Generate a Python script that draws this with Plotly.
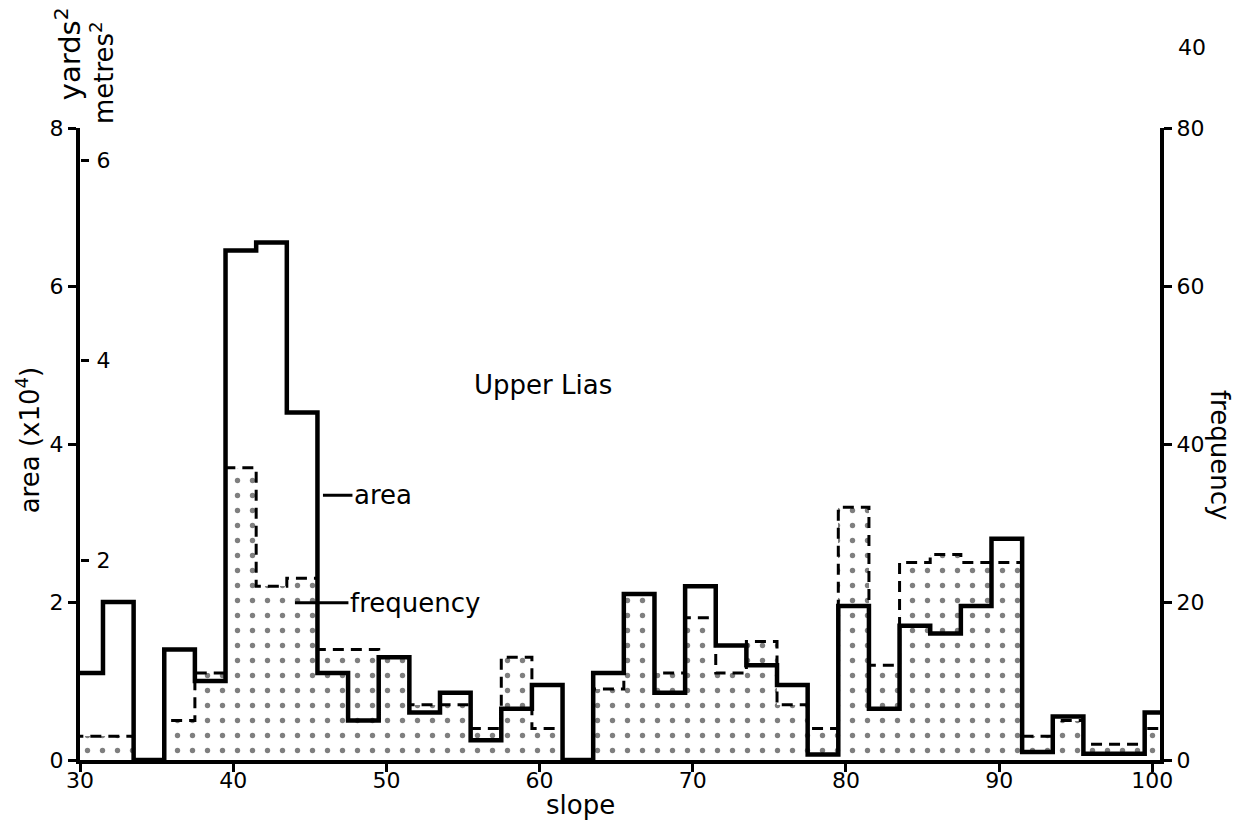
import plotly.graph_objects as go

# Slope classes (degrees): lower edge of each 2-degree bin
bin_lower = [29.5, 31.5, 33.5, 35.5, 37.5, 39.5, 41.5, 43.5, 45.5, 47.5,
             49.5, 51.5, 53.5, 55.5, 57.5, 59.5, 61.5, 63.5, 65.5, 67.5,
             69.5, 71.5, 73.5, 75.5, 77.5, 79.5, 81.5, 83.5, 85.5, 87.5,
             89.5, 91.5, 93.5, 95.5, 97.5, 99.5]
BIN_WIDTH = 2

# Area of each slope class (x10^4 square yards)
area_yd2 = [1.1, 2.0, 0.0, 1.4, 1.0, 6.45, 6.55, 4.4, 1.1, 0.5,
            1.3, 0.6, 0.85, 0.25, 0.65, 0.95, 0.0, 1.1, 2.1, 0.85,
            2.2, 1.45, 1.2, 0.95, 0.07, 1.95, 0.65, 1.7, 1.6, 1.95,
            2.8, 0.1, 0.55, 0.08, 0.08, 0.6]

# Number of slopes in each class
frequency = [3, 3, 0, 5, 11, 37, 22, 23, 14, 14,
             13, 7, 7, 4, 13, 4, 0, 9, 21, 11,
             18, 11, 15, 7, 4, 32, 12, 25, 26, 25,
             25, 3, 5, 2, 2, 4]

x_ticks = [30, 40, 50, 60, 70, 80, 90, 100]
area_ticks = [0, 2, 4, 6, 8]
metre_ticks = [2, 4, 6]
freq_ticks = [0, 20, 40, 60, 80]

# square-yard units per square-metre unit on the secondary scale
METRE_SCALE = 1.265

FONT = "DejaVu Sans"
INK = "black"

centers = [b + BIN_WIDTH / 2 for b in bin_lower]
step_x = bin_lower + [bin_lower[-1] + BIN_WIDTH]

fig = go.Figure()

# frequency histogram: stippled fill
fig.add_trace(go.Bar(
    x=centers, y=frequency, width=BIN_WIDTH, yaxis="y",
    marker=dict(color="rgba(255,255,255,0)", line=dict(width=0),
                pattern=dict(shape=".", fgcolor=INK, bgcolor="rgba(255,255,255,0)",
                             size=15, solidity=0.1)),
    showlegend=False, hoverinfo="skip",
))

# frequency outline: dashed steps
fig.add_trace(go.Scatter(
    x=step_x, y=frequency + [frequency[-1]], yaxis="y",
    mode="lines", line=dict(color=INK, width=3, dash="11px,7px", shape="hv"),
    showlegend=False, hoverinfo="skip",
))

# area histogram: heavy solid steps
fig.add_trace(go.Scatter(
    x=step_x, y=area_yd2 + [area_yd2[-1]], yaxis="y2",
    mode="lines", line=dict(color=INK, width=4.5, shape="hv"),
    showlegend=False, hoverinfo="skip",
))

# empty trace so the square-metre scale gets its own overlay axis
fig.add_trace(go.Scatter(x=[None], y=[None], yaxis="y3", mode="lines",
                         showlegend=False, hoverinfo="skip"))

tick_font = dict(family=FONT, size=22, color=INK)
label_font = dict(family=FONT, size=26, color=INK)

fig.update_layout(
    width=1258, height=823, autosize=False,
    margin=dict(l=80, r=98, t=128, b=63, pad=0),
    paper_bgcolor="white", plot_bgcolor="white",
    bargap=0,
    xaxis=dict(range=[30, 100.5], tickvals=x_ticks, ticks="outside",
               ticklen=8, tickwidth=3, tickcolor=INK,
               showline=True, linewidth=4, linecolor=INK,
               showgrid=False, zeroline=False, tickfont=tick_font,
               ticklabelstandoff=-10, ticklabeloverflow="allow"),
    yaxis=dict(range=[0, 80], side="right", tickvals=freq_ticks,
               ticks="outside", ticklen=8, tickwidth=3, tickcolor=INK,
               showline=True, linewidth=4, linecolor=INK,
               showgrid=False, zeroline=False, tickfont=tick_font),
    yaxis2=dict(range=[0, 8], side="left", overlaying="y", anchor="x",
                tickvals=area_ticks, ticks="outside", ticklen=8, tickwidth=3,
                tickcolor=INK, showline=True, linewidth=4, linecolor=INK,
                showgrid=False, zeroline=False, tickfont=tick_font),
    yaxis3=dict(range=[0, 8 / METRE_SCALE], side="left", overlaying="y",
                anchor="free", position=0, tickvals=metre_ticks,
                ticks="inside", ticklabelposition="inside",
                ticklabelstandoff=9, ticklen=8, tickwidth=3,
                ticklabeloverflow="allow",
                tickcolor=INK, showline=False, showgrid=False,
                zeroline=False, tickfont=tick_font),
)

centered = dict(xanchor="center", yanchor="middle", showarrow=False)
annotations = [
    dict(text="area (x10<sup>4</sup>)", xref="paper", yref="paper",
         x=-0.048, y=0.506, textangle=-90, font=label_font, **centered),
    dict(text="yards<sup>2</sup>", xref="paper", yref="paper",
         x=-0.011, y=1.117, textangle=-90,
         font=dict(family=FONT, size=29, color=INK), **centered),
    dict(text="metres<sup>2</sup>", xref="paper", yref="paper",
         x=0.021, y=1.088, textangle=-90, font=label_font, **centered),
    dict(text="frequency", xref="paper", yref="paper",
         x=1.0556, y=0.4826, textangle=90, font=label_font, **centered),
    dict(text="slope", xref="paper", yref="paper",
         x=0.463, y=-0.071, font=label_font, **centered),
    dict(text="40", xref="paper", yref="paper",
         x=1.0296, y=1.1266, font=tick_font, **centered),
    dict(text="Upper Lias", xref="x", yref="y2", x=60.2, y=4.75,
         font=label_font, **centered),
    dict(text="area", xref="x", yref="y2", x=45.86, y=3.35,
         showarrow=True, arrowhead=0, arrowwidth=3, arrowcolor=INK,
         ax=60, ay=0, standoff=0, font=label_font),
    dict(text="frequency", xref="x", yref="y2", x=44.03, y=1.99,
         showarrow=True, arrowhead=0, arrowwidth=3, arrowcolor=INK,
         ax=120, ay=0, standoff=0, font=label_font),
]
fig.update_layout(annotations=annotations)

fig.write_html("out.html")
